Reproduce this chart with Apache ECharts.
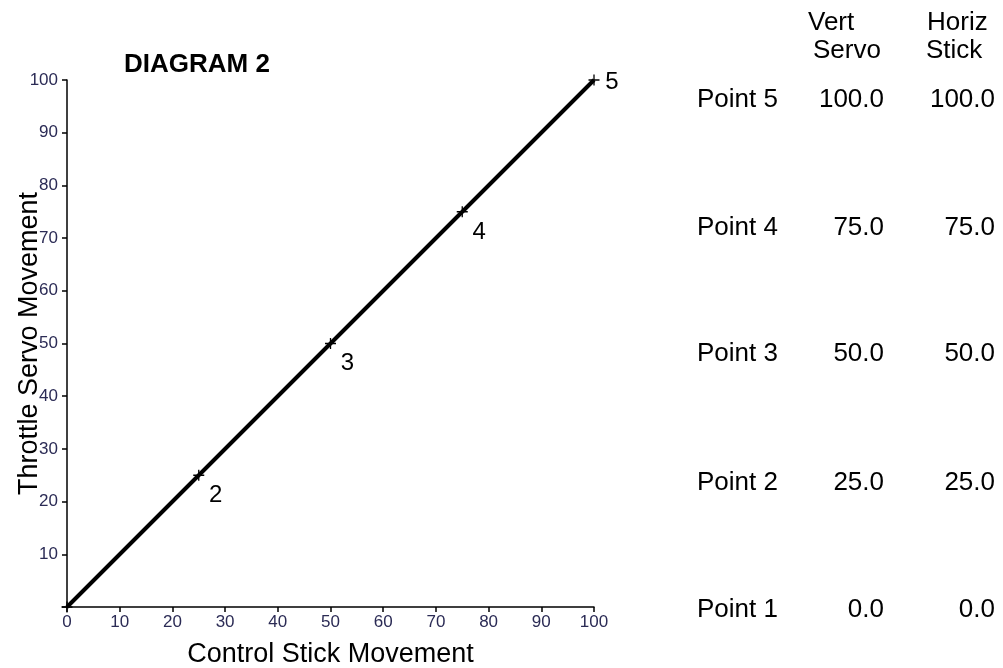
<!DOCTYPE html>
<html>
<head>
<meta charset="utf-8">
<script src="https://cdn.jsdelivr.net/npm/echarts@6/dist/echarts.min.js"></script>
<style>
html,body{margin:0;padding:0;background:#fff;}
#chart{width:1003px;height:668px;}
</style>
</head>
<body>
<div id="chart"></div>
<script>
const stickX = [0, 25, 50, 75, 100];
const servoY = [0, 25, 50, 75, 100];
const pointLabels = ['', '2', '3', '4', '5'];
const tableNames = ['Point 5', 'Point 4', 'Point 3', 'Point 2', 'Point 1'];
const tableVert = [100.0, 75.0, 50.0, 25.0, 0.0];
const tableHoriz = [100.0, 75.0, 50.0, 25.0, 0.0];

const FONT = '"Liberation Sans", Arial, sans-serif';
const TICK_COLOR = '#2b2b55';

const chart = echarts.init(document.getElementById('chart'), null, {renderer:'canvas'});

const seriesData = stickX.map((x, i) => {
  const item = { value: [x, servoY[i]] };
  if (pointLabels[i]) {
    const last = i === stickX.length - 1;
    item.label = {
      show: true,
      formatter: pointLabels[i],
      position: last ? 'right' : 'bottom',
      offset: last ? [0, 2] : [17, -3],
    };
  }
  return item;
});

const rowY = [100, 228, 354, 483, 610];
const graphics = [];
graphics.push({type:'text', left:808, top:10, style:{text:'Vert', font:'26px ' + FONT, fill:'#000'}});
graphics.push({type:'text', left:813, top:38, style:{text:'Servo', font:'26px ' + FONT, fill:'#000'}});
graphics.push({type:'text', left:927, top:10, style:{text:'Horiz', font:'26px ' + FONT, fill:'#000'}});
graphics.push({type:'text', left:926, top:38, style:{text:'Stick', font:'26px ' + FONT, fill:'#000'}});
tableNames.forEach((n, i) => {
  graphics.push({type:'text', x:697, y:rowY[i], style:{text:n, font:'26px ' + FONT, fill:'#000', verticalAlign:'middle', align:'left'}});
  graphics.push({type:'text', x:884, y:rowY[i], style:{text:tableVert[i].toFixed(1), font:'26px ' + FONT, fill:'#000', verticalAlign:'middle', align:'right'}});
  graphics.push({type:'text', x:995, y:rowY[i], style:{text:tableHoriz[i].toFixed(1), font:'26px ' + FONT, fill:'#000', verticalAlign:'middle', align:'right'}});
});

chart.setOption({
  animation: false,
  backgroundColor: '#fff',
  title: {
    text: 'DIAGRAM 2',
    left: 119, top: 47,
    textStyle: {fontFamily: FONT, fontWeight: 'bold', fontSize: 26, color: '#000'}
  },
  grid: {left: 67, right: 409, top: 80, bottom: 61, containLabel: false, outerBoundsMode: 'none'},
  xAxis: {
    type: 'value', min: 0, max: 100, interval: 10,
    name: 'Control Stick Movement', nameLocation: 'middle', nameGap: 34, nameMoveOverlap: false,
    nameTextStyle: {fontFamily: FONT, fontSize: 27, color: '#000'},
    axisLine: {show: true, onZero: false, lineStyle: {color: '#000', width: 1.5}},
    axisTick: {show: true, length: 5, lineStyle: {color: '#000', width: 1.5}},
    axisLabel: {fontFamily: FONT, fontSize: 17, color: TICK_COLOR, margin: 7},
    splitLine: {show: false}
  },
  yAxis: {
    type: 'value', min: 0, max: 100, interval: 10,
    name: 'Throttle Servo Movement', nameLocation: 'middle', nameGap: 24, nameMoveOverlap: false,
    nameTextStyle: {fontFamily: FONT, fontSize: 27, color: '#000'},
    axisLine: {show: true, onZero: false, lineStyle: {color: '#000', width: 1.5}},
    axisTick: {show: true, length: 5, lineStyle: {color: '#000', width: 1.5}},
    axisLabel: {fontFamily: FONT, fontSize: 17, color: TICK_COLOR, margin: 9,
      formatter: v => v === 0 ? '' : String(v)},
    splitLine: {show: false}
  },
  series: [{
    type: 'line',
    data: seriesData,
    lineStyle: {color: '#000', width: 4},
    symbol: 'path://M0,5L10,5M5,0L5,10',
    symbolSize: 11,
    showAllSymbol: true,
    itemStyle: {color: '#000', borderColor: '#000', borderWidth: 1.3},
    label: {fontFamily: FONT, fontSize: 24, color: '#000'},
    z: 3
  }],
  graphic: graphics
});
</script>
</body>
</html>
